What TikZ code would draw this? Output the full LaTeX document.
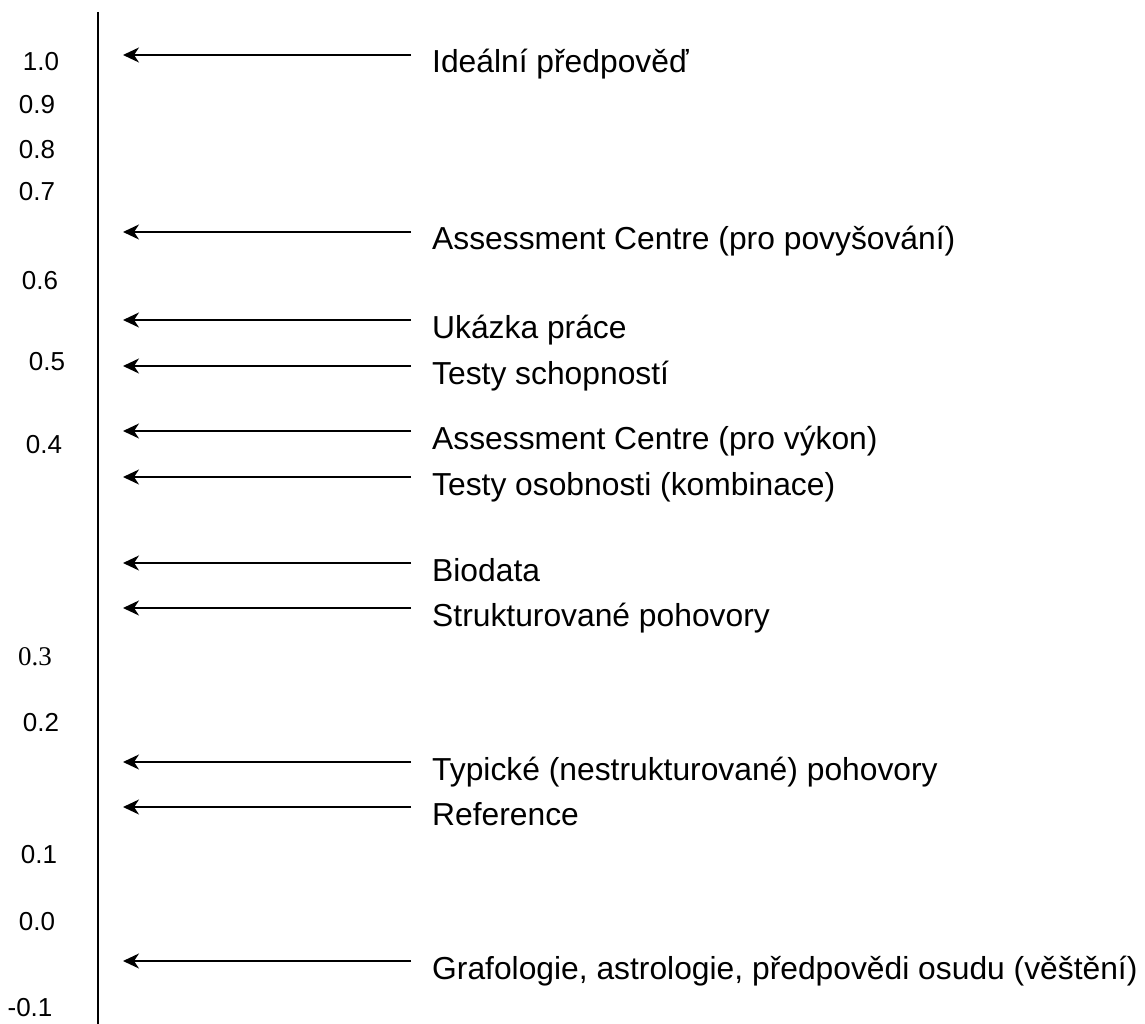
\documentclass[tikz,border=0pt]{standalone}
\usepackage{fontspec}
\setmainfont{Liberation Sans}
\newfontfamily\serifnum{Liberation Serif}
\usetikzlibrary{arrows.meta}

\tikzset{
  arr/.style={line width=2pt,-{Stealth[length=16pt,width=15pt,inset=5pt]}},
  lab/.style={anchor=base west,inner xsep=21pt,inner ysep=0pt,font=\fontsize{31.8}{36}\selectfont},
  tick/.style={inner sep=0pt,font=\fontsize{26}{30}\selectfont}
}

\begin{document}
\begin{tikzpicture}[x=1pt,y=-1pt]
\useasboundingbox (0,0) rectangle (1145,1024);
\draw[line width=2pt] (98,12) -- (98,1024);

\node[tick] (v10) at (41,62) {1.0};
\node[tick] (v09) at (37,105) {0.9};
\node[tick] (v08) at (37,150) {0.8};
\node[tick] (v07) at (37,192) {0.7};
\node[tick] (v06) at (40,281) {0.6};
\node[tick] (v05) at (47,362) {0.5};
\node[tick] (v04) at (44,445) {0.4};
\node[tick,font=\serifnum\fontsize{27}{30}\selectfont] (v03) at (35,657) {0.3};
\node[tick] (v02) at (41,723) {0.2};
\node[tick] (v01) at (39,855) {0.1};
\node[tick] (v00) at (37,922) {0.0};
\node[tick] (vm01) at (30,1008) {-0.1};

\node[lab] (ideal) at (411,73) {Ideální předpověď};
\node[lab] (acpov) at (411,250) {Assessment Centre (pro povyšování)};
\node[lab] (ukazka) at (411,338) {Ukázka práce};
\node[lab] (schop) at (411,384) {Testy schopností};
\node[lab] (acvyk) at (411,449) {Assessment Centre (pro výkon)};
\node[lab] (osob) at (411,495) {Testy osobnosti (kombinace)};
\node[lab] (bio) at (411,581) {Biodata};
\node[lab] (strukt) at (411,626) {Strukturované pohovory};
\node[lab] (typ) at (411,780) {Typické (nestrukturované) pohovory};
\node[lab] (ref) at (411,825) {Reference};
\node[lab] (graf) at (411,979) {Grafologie, astrologie, předpovědi osudu (věštění)};

\coordinate (ideal-tip) at (123,55);
\coordinate (acpov-tip) at (123,232);
\coordinate (ukazka-tip) at (123,320);
\coordinate (schop-tip) at (123,366);
\coordinate (acvyk-tip) at (123,431);
\coordinate (osob-tip) at (123,477);
\coordinate (bio-tip) at (123,563);
\coordinate (strukt-tip) at (123,608);
\coordinate (typ-tip) at (123,762);
\coordinate (ref-tip) at (123,807);
\coordinate (graf-tip) at (123,961);

\draw[arr] (ideal-tip -| ideal.west) -- (ideal-tip);
\draw[arr] (acpov-tip -| acpov.west) -- (acpov-tip);
\draw[arr] (ukazka-tip -| ukazka.west) -- (ukazka-tip);
\draw[arr] (schop-tip -| schop.west) -- (schop-tip);
\draw[arr] (acvyk-tip -| acvyk.west) -- (acvyk-tip);
\draw[arr] (osob-tip -| osob.west) -- (osob-tip);
\draw[arr] (bio-tip -| bio.west) -- (bio-tip);
\draw[arr] (strukt-tip -| strukt.west) -- (strukt-tip);
\draw[arr] (typ-tip -| typ.west) -- (typ-tip);
\draw[arr] (ref-tip -| ref.west) -- (ref-tip);
\draw[arr] (graf-tip -| graf.west) -- (graf-tip);
\end{tikzpicture}
\end{document}
